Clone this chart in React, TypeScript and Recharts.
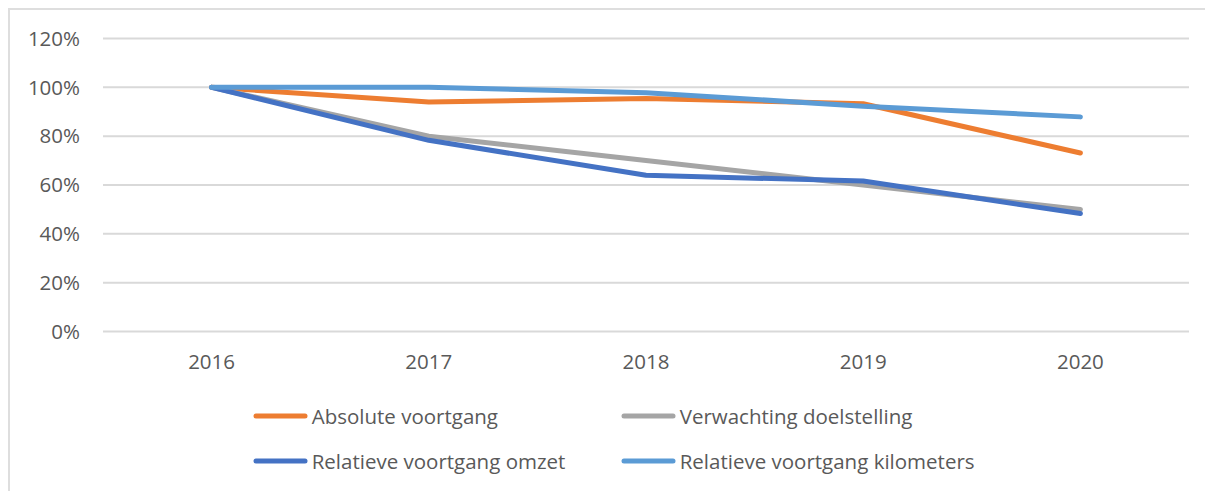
import React from 'react';
import { LineChart, Line, XAxis, YAxis, CartesianGrid, Legend } from 'recharts';

const years = ['2016', '2017', '2018', '2019', '2020'];
const absoluteVoortgang = [100, 94.0, 95.4, 93.3, 73.1];
const verwachtingDoelstelling = [100, 80, 70, 60, 50];
const relatieveOmzet = [100, 78.3, 64.0, 61.6, 48.3];
const relatieveKilometers = [100, 100, 97.8, 92.3, 87.9];
const yTicks = [0, 20, 40, 60, 80, 100, 120];

const seriesNames = [
  'Absolute voortgang',
  'Verwachting doelstelling',
  'Relatieve voortgang omzet',
  'Relatieve voortgang kilometers',
];
const seriesColors = ['#ED7D31', '#A5A5A5', '#4472C4', '#5B9BD5'];

const data = years.map((year, i) => ({
  year,
  abs: absoluteVoortgang[i],
  verw: verwachtingDoelstelling[i],
  omzet: relatieveOmzet[i],
  km: relatieveKilometers[i],
}));
const keys = ['abs', 'verw', 'omzet', 'km'];

const FONT = '"Open Sans", sans-serif';
const TEXT = '#595959';

const LegendContent = () => {
  const colX = [242.7, 610.7];
  const rowY = [25, 70];
  return (
    <div style={{ position: 'relative', width: 1203, height: 100 }}>
      {seriesNames.map((name, i) => {
        const col = i % 2;
        const row = Math.floor(i / 2);
        return (
          <div
            key={i}
            style={{
              position: 'absolute',
              left: colX[col],
              top: rowY[row] - 15,
              height: 30,
              display: 'flex',
              alignItems: 'center',
              whiteSpace: 'nowrap',
            }}
          >
            <svg width={55} height={8} style={{ display: 'block' }}>
              <line x1={3} y1={4} x2={52} y2={4} stroke={seriesColors[i]} strokeWidth={5} strokeLinecap="round" />
            </svg>
            <span style={{ marginLeft: 4, fontFamily: FONT, fontSize: 20.5, color: TEXT, lineHeight: '30px' }}>
              {name}
            </span>
          </div>
        );
      })}
    </div>
  );
};

export default function App() {
  return (
    <div
      style={{
        width: 1203,
        height: 481,
        borderTop: '2px solid #dedede',
        borderLeft: '2px solid #dedede',
        fontFamily: FONT,
        background: '#fff',
      }}
    >
      <LineChart
        width={1203}
        height={481}
        data={data}
        margin={{ top: 28.5, right: 24, left: 0, bottom: 30 }}
      >
        <CartesianGrid vertical={false} stroke="#d9d9d9" strokeWidth={2} />
        <XAxis
          dataKey="year"
          scale="band"
          axisLine={false}
          tickLine={false}
          tickSize={0}
          tickMargin={23}
          height={29.5}
          tick={{ fill: TEXT, fontSize: 20.5, fontFamily: FONT }}
        />
        <YAxis
          domain={[0, 120]}
          ticks={yTicks}
          width={93}
          axisLine={false}
          tickLine={false}
          tickSize={0}
          tickMargin={23}
          tickFormatter={(v: number) => `${v}%`}
          tick={{ fill: TEXT, fontSize: 20.5, fontFamily: FONT }}
        />
        <Legend
          verticalAlign="bottom"
          align="left"
          content={LegendContent}
          wrapperStyle={{ left: 0, bottom: 0, width: 1203 }}
        />
        {keys.map((k, i) => (
          <Line
            key={k}
            type="linear"
            dataKey={k}
            name={seriesNames[i]}
            stroke={seriesColors[i]}
            strokeWidth={5}
            strokeLinecap="round"
            strokeLinejoin="round"
            dot={false}
            activeDot={false}
            isAnimationActive={false}
          />
        ))}
      </LineChart>
    </div>
  );
}
